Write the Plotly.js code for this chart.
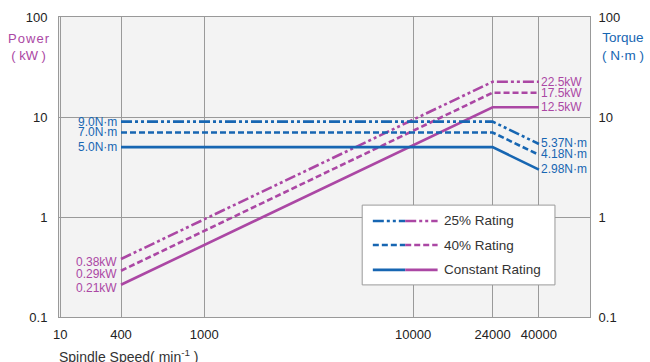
<!DOCTYPE html>
<html>
<head>
<meta charset="utf-8">
<script src="https://cdn.plot.ly/plotly-3.0.1.min.js"></script>
<style>html,body{margin:0;padding:0;background:#fff;}#chart{width:650px;height:362px;}</style>
</head>
<body>
<div id="chart"></div>
<script>
// ---- data ----
const speed = [400, 24000, 40000];
const power25 = [0.38, 22.5, 22.5];
const power40 = [0.29, 17.5, 17.5];
const powerConst = [0.21, 12.5, 12.5];
const torque25 = [9.0, 9.0, 5.37];
const torque40 = [7.0, 7.0, 4.18];
const torqueConst = [5.0, 5.0, 2.98];
const xTickVals = [205, 400, 1000, 10000, 24000, 40000];
const xTickText = ['10', '400', '1000', '10000', '24000', '40000'];
const yTickVals = [0.1, 1, 10, 100];
const yTickText = ['0.1', '1', '10', '100'];
const legendNames = ['25% Rating', '40% Rating', 'Constant Rating'];

const PURPLE = '#ab47a4';
const BLUE = '#1766b2';
const DASHES = ['11px,3px,3px,3px,3px,3px', '6px,3px', 'solid'];
const FONT = 'Liberation Sans, Arial, sans-serif';
const HS = '\u200A';

const powers = [power25, power40, powerConst];
const torques = [torque25, torque40, torqueConst];

const traces = [];
powers.forEach((p, i) => traces.push({
  x: speed, y: p, type: 'scatter', mode: 'lines', showlegend: false,
  line: {color: PURPLE, width: 2.6, dash: DASHES[i]}, hoverinfo: 'skip'
}));
torques.forEach((t, i) => traces.push({
  x: speed, y: t, type: 'scatter', mode: 'lines', showlegend: false,
  line: {color: BLUE, width: 2.6, dash: DASHES[i]}, hoverinfo: 'skip'
}));
// dummy trace to activate right axis
traces.push({x: [speed[0]], y: [1], yaxis: 'y2', mode: 'markers', marker: {opacity: 0}, showlegend: false, hoverinfo: 'skip'});

const annotations = [];
const small = {borderpad: 0, showarrow: false};
powers.forEach(p => {
  annotations.push(Object.assign({x: Math.log10(speed[0]), y: Math.log10(p[0]), xref: 'x', yref: 'y', text: p[0].toFixed(2) + 'kW',
    xanchor: 'right', yanchor: 'middle', xshift: -3, yshift: -3, font: {color: PURPLE, size: 12, family: FONT}}, small));
  annotations.push(Object.assign({x: Math.log10(speed[2]), y: Math.log10(p[2]), xref: 'x', yref: 'y', text: p[2].toFixed(1) + 'kW',
    xanchor: 'left', yanchor: 'middle', xshift: 1, yshift: 0, font: {color: PURPLE, size: 12, family: FONT}}, small));
});
torques.forEach(t => {
  annotations.push(Object.assign({x: Math.log10(speed[0]), y: Math.log10(t[0]), xref: 'x', yref: 'y', text: t[0].toFixed(1) + 'N·m',
    xanchor: 'right', yanchor: 'middle', xshift: -3, font: {color: BLUE, size: 12, family: FONT}}, small));
  annotations.push(Object.assign({x: Math.log10(speed[2]), y: Math.log10(t[2]), xref: 'x', yref: 'y', text: t[2].toFixed(2) + 'N·m',
    xanchor: 'left', yanchor: 'middle', xshift: 1, yshift: 1, font: {color: BLUE, size: 12, family: FONT}}, small));
});
// axis titles
annotations.push({xref: 'paper', yref: 'paper', x: -0.013, y: 0.90, xanchor: 'right', yanchor: 'middle',
  text: ['P','o','w','e','r'].join(HS) + '<br>( kW )', showarrow: false, align: 'center', font: {color: PURPLE, size: 13, family: FONT}});
annotations.push({xref: 'paper', yref: 'paper', x: 1.019, y: 0.90, xanchor: 'left', yanchor: 'middle',
  text: 'Torque<br>( N·m )', showarrow: false, align: 'center', font: {color: BLUE, size: 13.5, family: FONT}});
annotations.push({xref: 'paper', yref: 'paper', x: -0.003, y: -0.13, xanchor: 'left', yanchor: 'middle',
  text: 'Spindle Speed( min<sup>-1</sup> )', showarrow: false, font: {color: '#333', size: 14, family: FONT}});

// custom legend (two-colour samples)
const shapes = [];
const lx0 = 0.571, lx1 = 0.934, ly0 = 0.107, ly1 = 0.373;
shapes.push({type: 'rect', xref: 'paper', yref: 'paper', x0: lx0, x1: lx1, y0: ly0, y1: ly1,
  fillcolor: '#ffffff', line: {color: '#999', width: 1}, layer: 'above'});
const legY = [0.32, 0.24, 0.157];
legendNames.forEach((name, i) => {
  shapes.push({type: 'line', xref: 'paper', yref: 'paper', x0: 0.591, x1: 0.652, y0: legY[i], y1: legY[i],
    line: {color: BLUE, width: 2.6, dash: DASHES[i]}, layer: 'above'});
  shapes.push({type: 'line', xref: 'paper', yref: 'paper', x0: 0.652, x1: 0.713, y0: legY[i], y1: legY[i],
    line: {color: PURPLE, width: 2.6, dash: DASHES[i]}, layer: 'above'});
  annotations.push({xref: 'paper', yref: 'paper', x: 0.722, y: legY[i], xanchor: 'left', yanchor: 'middle',
    text: name, showarrow: false, font: {color: '#333', size: 13.5, family: FONT}});
});

const axisCommon = {
  type: 'log', range: [-1, 2], tickvals: yTickVals, ticktext: yTickText,
  showgrid: true, gridcolor: '#9a9a9a', gridwidth: 1, zeroline: false,
  showline: true, linecolor: '#999', linewidth: 1, ticks: '',
  tickfont: {size: 13, color: '#222', family: FONT}
};

const layout = {
  width: 650, height: 362,
  margin: {l: 59, r: 60, t: 17, b: 45},
  paper_bgcolor: '#ffffff', plot_bgcolor: '#f3f3f3',
  showlegend: false,
  xaxis: {
    type: 'log', range: [Math.log10(202), Math.log10(70200)],
    tickvals: xTickVals, ticktext: xTickText,
    showgrid: true, gridcolor: '#9a9a9a', gridwidth: 1, zeroline: false,
    showline: true, linecolor: '#999', linewidth: 1, mirror: true, ticks: '',
    ticklabelstandoff: 5,
    tickfont: {size: 13, color: '#222', family: FONT}
  },
  yaxis: Object.assign({}, axisCommon, {side: 'left', mirror: false, ticklabelstandoff: 8}),
  yaxis2: Object.assign({}, axisCommon, {side: 'right', overlaying: 'y', showgrid: false, ticklabelstandoff: 5}),
  annotations: annotations,
  shapes: shapes
};

Plotly.newPlot('chart', traces, layout, {staticPlot: true, displayModeBar: false});
</script>
</body>
</html>
